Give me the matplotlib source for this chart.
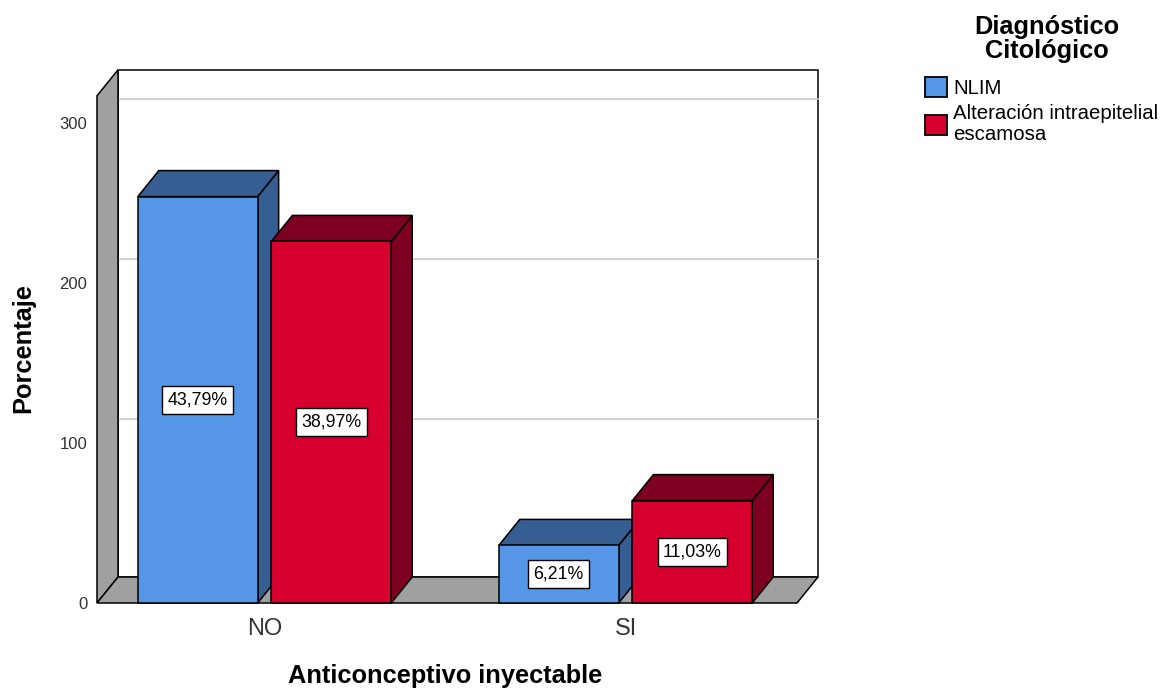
import matplotlib
matplotlib.use("Agg")
import matplotlib.pyplot as plt
from matplotlib.patches import Polygon, Rectangle

# Data
categories = ["NO", "SI"]
series = ["NLIM", "Alteración intraepitelial\nescamosa"]
nlim_counts = [254, 36]
alteracion_counts = [226, 64]
nlim_labels = ["43,79%", "6,21%"]
alteracion_labels = ["38,97%", "11,03%"]
yticks = [0, 100, 200, 300]
legend_title = ["Diagnóstico", "Citológico"]

plt.rcParams["font.family"] = ["Liberation Sans", "DejaVu Sans"]

front_colors = ["#5596E6", "#D6002F"]
dark_colors = ["#365E92", "#7D0021"]
wall_grey = "#A0A0A0"
text_grey = "#333333"

W, H = 1166, 695
fig = plt.figure(figsize=(W / 100, H / 100), dpi=100)
ax = fig.add_axes([97 / W, (H - 603) / H, 700 / W, 510 / H])

xlim = (-0.464, 1.475)
ylim = (0, 318.75)
ax.set_xlim(*xlim)
ax.set_ylim(*ylim)

# depth of the pseudo-3D box, in data units
ddx = 21 / 361
ddy = 16.25
wall_h = 317

lw = 1.1
x0, x1 = xlim

# back wall
ax.add_patch(Polygon([(x0 + ddx, ddy), (x0 + ddx, wall_h + ddy), (x1 + ddx, wall_h + ddy),
                      (x1 + ddx, ddy)], closed=True, facecolor="white", edgecolor="black",
                     lw=lw, clip_on=False, zorder=1))
for t in yticks[1:]:
    ax.plot([x0 + ddx, x1 + ddx], [t + ddy - 1.2, t + ddy - 1.2], color="#C8C8C8", lw=1.2,
            clip_on=False, zorder=1.5)
# left wall
ax.add_patch(Polygon([(x0, 0), (x0, wall_h), (x0 + ddx, wall_h + ddy), (x0 + ddx, ddy)],
                     closed=True, facecolor=wall_grey, edgecolor="black", lw=lw,
                     clip_on=False, zorder=2))
# floor
ax.add_patch(Polygon([(x0, 0), (x1, 0), (x1 + ddx, ddy), (x0 + ddx, ddy)], closed=True,
                     facecolor=wall_grey, edgecolor="black", lw=lw, clip_on=False, zorder=2))

bar_w = 0.332
offsets = [-0.185, 0.185]
z = 3
for ci in range(len(categories)):
    for si, (vals, labs) in enumerate([(nlim_counts, nlim_labels),
                                        (alteracion_counts, alteracion_labels)]):
        v = vals[ci]
        xc = ci + offsets[si]
        xl, xr = xc - bar_w / 2, xc + bar_w / 2
        side = Polygon([(xr, 0), (xr, v), (xr + ddx, v + ddy), (xr + ddx, ddy)], closed=True,
                       facecolor=dark_colors[si], edgecolor="black", lw=lw, clip_on=False,
                       zorder=z)
        top = Polygon([(xl, v), (xr, v), (xr + ddx, v + ddy), (xl + ddx, v + ddy)], closed=True,
                      facecolor=dark_colors[si], edgecolor="black", lw=lw, clip_on=False,
                      zorder=z)
        front = Rectangle((xl, 0), bar_w, v, facecolor=front_colors[si], edgecolor="black",
                          lw=lw, clip_on=False, zorder=z + 0.1)
        ax.add_patch(side)
        ax.add_patch(top)
        ax.add_patch(front)
        ax.text(xc, v / 2, labs[ci], ha="center", va="center", fontsize=12.8, color="black",
                zorder=z + 0.2,
                bbox=dict(boxstyle="square,pad=0.3", facecolor="white", edgecolor="black",
                          lw=1.0))
        z += 1

for s in ax.spines.values():
    s.set_visible(False)
ax.patch.set_visible(False)

ax.set_yticks(yticks)
ax.set_yticklabels([str(t) for t in yticks])
ax.tick_params(axis="y", length=0, pad=7, labelsize=12, labelcolor=text_grey)
ax.set_xticks(range(len(categories)))
ax.set_xticklabels(categories)
ax.tick_params(axis="x", length=0, pad=11, labelsize=17, labelcolor=text_grey)

ax.set_xlabel("Anticonceptivo inyectable", fontsize=18.3, fontweight="bold")
ax.xaxis.set_label_coords(0.497, -0.143)
ax.xaxis.label.set_va("center")
ax.set_ylabel("Porcentaje", fontsize=18.3, fontweight="bold")
ax.yaxis.set_label_coords(-0.106, 0.5)
ax.yaxis.label.set_va("center")

# legend heading
for i, line in enumerate(legend_title):
    fig.text(1047 / W, 1 - (34 + 24 * i) / H, line, ha="center", va="baseline",
             fontsize=18.3, fontweight="bold")

handles = [Rectangle((0, 0), 1, 1, facecolor=c, edgecolor="black", lw=1.3) for c in front_colors]
leg = fig.legend(handles, series, loc="upper left", bbox_to_anchor=(925 / W, 1 - 77 / H),
                 frameon=False, fontsize=14.7,
                 handlelength=1.07, handleheight=1.15, handletextpad=0.3, labelspacing=0.3,
                 borderpad=0, borderaxespad=0)
for t in leg.get_texts():
    t.set_linespacing(1.12)

fig.savefig("out.png", dpi=100)
